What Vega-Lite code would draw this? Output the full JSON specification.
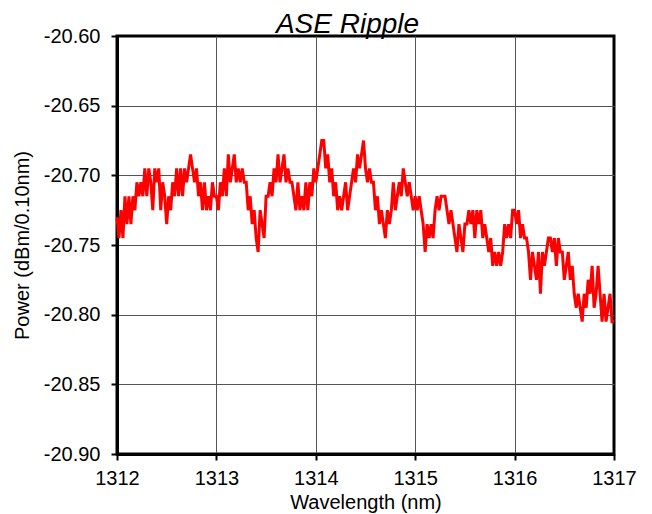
{
  "$schema": "https://vega.github.io/schema/vega-lite/v6.json",
  "width": 497,
  "height": 418,
  "autosize": {"type": "none"},
  "padding": {"left": 117, "top": 36, "right": 38, "bottom": 60},
  "background": "white",
  "title": {"text": "ASE Ripple", "font": "Liberation Sans", "fontStyle": "italic", "fontWeight": "normal", "fontSize": 28, "color": "black", "anchor": "middle", "baseline": "alphabetic", "frame": "group", "offset": -35, "dx": -18},
  "view": {"stroke": "black", "strokeWidth": 3},
  "data": {"values": [
    {"w": 1312.00, "p": -20.730}, {"w": 1312.02, "p": -20.745}, {"w": 1312.04, "p": -20.725}, {"w": 1312.06, "p": -20.745}, {"w": 1312.08, "p": -20.715},
    {"w": 1312.10, "p": -20.735}, {"w": 1312.12, "p": -20.715}, {"w": 1312.14, "p": -20.735}, {"w": 1312.16, "p": -20.715}, {"w": 1312.18, "p": -20.725},
    {"w": 1312.20, "p": -20.705}, {"w": 1312.22, "p": -20.715}, {"w": 1312.24, "p": -20.705}, {"w": 1312.26, "p": -20.715}, {"w": 1312.28, "p": -20.695},
    {"w": 1312.30, "p": -20.715}, {"w": 1312.32, "p": -20.695}, {"w": 1312.34, "p": -20.705}, {"w": 1312.36, "p": -20.725}, {"w": 1312.38, "p": -20.695},
    {"w": 1312.40, "p": -20.705}, {"w": 1312.42, "p": -20.695}, {"w": 1312.44, "p": -20.725}, {"w": 1312.46, "p": -20.705}, {"w": 1312.48, "p": -20.715},
    {"w": 1312.50, "p": -20.735}, {"w": 1312.52, "p": -20.715}, {"w": 1312.54, "p": -20.725}, {"w": 1312.56, "p": -20.705}, {"w": 1312.58, "p": -20.715},
    {"w": 1312.60, "p": -20.695}, {"w": 1312.62, "p": -20.715}, {"w": 1312.64, "p": -20.695}, {"w": 1312.66, "p": -20.715}, {"w": 1312.68, "p": -20.695},
    {"w": 1312.70, "p": -20.705}, {"w": 1312.72, "p": -20.695}, {"w": 1312.74, "p": -20.685}, {"w": 1312.76, "p": -20.695}, {"w": 1312.78, "p": -20.705},
    {"w": 1312.80, "p": -20.695}, {"w": 1312.82, "p": -20.715}, {"w": 1312.84, "p": -20.705}, {"w": 1312.86, "p": -20.725}, {"w": 1312.88, "p": -20.705},
    {"w": 1312.90, "p": -20.725}, {"w": 1312.92, "p": -20.715}, {"w": 1312.94, "p": -20.725}, {"w": 1312.96, "p": -20.705}, {"w": 1312.98, "p": -20.715},
    {"w": 1313.00, "p": -20.715}, {"w": 1313.02, "p": -20.725}, {"w": 1313.04, "p": -20.705}, {"w": 1313.06, "p": -20.715}, {"w": 1313.08, "p": -20.695},
    {"w": 1313.10, "p": -20.715}, {"w": 1313.12, "p": -20.685}, {"w": 1313.14, "p": -20.705}, {"w": 1313.16, "p": -20.695}, {"w": 1313.18, "p": -20.685},
    {"w": 1313.20, "p": -20.705}, {"w": 1313.22, "p": -20.695}, {"w": 1313.24, "p": -20.705}, {"w": 1313.26, "p": -20.695}, {"w": 1313.28, "p": -20.705},
    {"w": 1313.30, "p": -20.705}, {"w": 1313.32, "p": -20.725}, {"w": 1313.34, "p": -20.715}, {"w": 1313.36, "p": -20.735}, {"w": 1313.38, "p": -20.725},
    {"w": 1313.40, "p": -20.745}, {"w": 1313.42, "p": -20.755}, {"w": 1313.44, "p": -20.725}, {"w": 1313.46, "p": -20.735}, {"w": 1313.48, "p": -20.745},
    {"w": 1313.50, "p": -20.715}, {"w": 1313.52, "p": -20.715}, {"w": 1313.54, "p": -20.705}, {"w": 1313.56, "p": -20.715}, {"w": 1313.58, "p": -20.695},
    {"w": 1313.60, "p": -20.705}, {"w": 1313.62, "p": -20.685}, {"w": 1313.64, "p": -20.705}, {"w": 1313.66, "p": -20.695}, {"w": 1313.68, "p": -20.685},
    {"w": 1313.70, "p": -20.705}, {"w": 1313.72, "p": -20.695}, {"w": 1313.74, "p": -20.705}, {"w": 1313.76, "p": -20.705}, {"w": 1313.78, "p": -20.715},
    {"w": 1313.80, "p": -20.725}, {"w": 1313.82, "p": -20.705}, {"w": 1313.84, "p": -20.725}, {"w": 1313.86, "p": -20.715}, {"w": 1313.88, "p": -20.725},
    {"w": 1313.90, "p": -20.705}, {"w": 1313.92, "p": -20.725}, {"w": 1313.94, "p": -20.705}, {"w": 1313.96, "p": -20.715}, {"w": 1313.98, "p": -20.695},
    {"w": 1314.00, "p": -20.705}, {"w": 1314.02, "p": -20.695}, {"w": 1314.04, "p": -20.685}, {"w": 1314.06, "p": -20.675}, {"w": 1314.08, "p": -20.675},
    {"w": 1314.10, "p": -20.695}, {"w": 1314.12, "p": -20.685}, {"w": 1314.14, "p": -20.705}, {"w": 1314.16, "p": -20.695}, {"w": 1314.18, "p": -20.715},
    {"w": 1314.20, "p": -20.705}, {"w": 1314.22, "p": -20.725}, {"w": 1314.24, "p": -20.715}, {"w": 1314.26, "p": -20.725}, {"w": 1314.28, "p": -20.715},
    {"w": 1314.30, "p": -20.705}, {"w": 1314.32, "p": -20.725}, {"w": 1314.34, "p": -20.715}, {"w": 1314.36, "p": -20.705}, {"w": 1314.38, "p": -20.695},
    {"w": 1314.40, "p": -20.705}, {"w": 1314.42, "p": -20.685}, {"w": 1314.44, "p": -20.695}, {"w": 1314.46, "p": -20.685}, {"w": 1314.48, "p": -20.675},
    {"w": 1314.50, "p": -20.695}, {"w": 1314.52, "p": -20.705}, {"w": 1314.54, "p": -20.695}, {"w": 1314.56, "p": -20.705}, {"w": 1314.58, "p": -20.705},
    {"w": 1314.60, "p": -20.725}, {"w": 1314.62, "p": -20.715}, {"w": 1314.64, "p": -20.735}, {"w": 1314.66, "p": -20.725}, {"w": 1314.68, "p": -20.735},
    {"w": 1314.70, "p": -20.745}, {"w": 1314.72, "p": -20.725}, {"w": 1314.74, "p": -20.735}, {"w": 1314.76, "p": -20.725}, {"w": 1314.78, "p": -20.705},
    {"w": 1314.80, "p": -20.725}, {"w": 1314.82, "p": -20.715}, {"w": 1314.84, "p": -20.705}, {"w": 1314.86, "p": -20.715}, {"w": 1314.88, "p": -20.695},
    {"w": 1314.90, "p": -20.705}, {"w": 1314.92, "p": -20.715}, {"w": 1314.94, "p": -20.705}, {"w": 1314.96, "p": -20.715}, {"w": 1314.98, "p": -20.725},
    {"w": 1315.00, "p": -20.715}, {"w": 1315.02, "p": -20.725}, {"w": 1315.04, "p": -20.715}, {"w": 1315.06, "p": -20.725}, {"w": 1315.08, "p": -20.735},
    {"w": 1315.10, "p": -20.755}, {"w": 1315.12, "p": -20.735}, {"w": 1315.14, "p": -20.745}, {"w": 1315.16, "p": -20.735}, {"w": 1315.18, "p": -20.745},
    {"w": 1315.20, "p": -20.725}, {"w": 1315.22, "p": -20.715}, {"w": 1315.24, "p": -20.725}, {"w": 1315.26, "p": -20.715}, {"w": 1315.28, "p": -20.715},
    {"w": 1315.30, "p": -20.715}, {"w": 1315.32, "p": -20.725}, {"w": 1315.34, "p": -20.735}, {"w": 1315.36, "p": -20.725}, {"w": 1315.38, "p": -20.735},
    {"w": 1315.40, "p": -20.745}, {"w": 1315.42, "p": -20.755}, {"w": 1315.44, "p": -20.735}, {"w": 1315.46, "p": -20.745}, {"w": 1315.48, "p": -20.755},
    {"w": 1315.50, "p": -20.735}, {"w": 1315.52, "p": -20.735}, {"w": 1315.54, "p": -20.725}, {"w": 1315.56, "p": -20.735}, {"w": 1315.58, "p": -20.725},
    {"w": 1315.60, "p": -20.745}, {"w": 1315.62, "p": -20.725}, {"w": 1315.64, "p": -20.735}, {"w": 1315.66, "p": -20.725}, {"w": 1315.68, "p": -20.745},
    {"w": 1315.70, "p": -20.735}, {"w": 1315.72, "p": -20.745}, {"w": 1315.74, "p": -20.755}, {"w": 1315.76, "p": -20.745}, {"w": 1315.78, "p": -20.765},
    {"w": 1315.80, "p": -20.755}, {"w": 1315.82, "p": -20.765}, {"w": 1315.84, "p": -20.755}, {"w": 1315.86, "p": -20.765}, {"w": 1315.88, "p": -20.755},
    {"w": 1315.90, "p": -20.735}, {"w": 1315.92, "p": -20.745}, {"w": 1315.94, "p": -20.735}, {"w": 1315.96, "p": -20.745}, {"w": 1315.98, "p": -20.725},
    {"w": 1316.00, "p": -20.725}, {"w": 1316.02, "p": -20.735}, {"w": 1316.04, "p": -20.725}, {"w": 1316.06, "p": -20.745}, {"w": 1316.08, "p": -20.735},
    {"w": 1316.10, "p": -20.745}, {"w": 1316.12, "p": -20.745}, {"w": 1316.14, "p": -20.755}, {"w": 1316.16, "p": -20.775}, {"w": 1316.18, "p": -20.755},
    {"w": 1316.20, "p": -20.765}, {"w": 1316.22, "p": -20.775}, {"w": 1316.24, "p": -20.755}, {"w": 1316.26, "p": -20.785}, {"w": 1316.28, "p": -20.755},
    {"w": 1316.30, "p": -20.765}, {"w": 1316.32, "p": -20.755}, {"w": 1316.34, "p": -20.745}, {"w": 1316.36, "p": -20.745}, {"w": 1316.38, "p": -20.755},
    {"w": 1316.40, "p": -20.745}, {"w": 1316.42, "p": -20.765}, {"w": 1316.44, "p": -20.745}, {"w": 1316.46, "p": -20.755}, {"w": 1316.48, "p": -20.755},
    {"w": 1316.50, "p": -20.775}, {"w": 1316.52, "p": -20.765}, {"w": 1316.54, "p": -20.755}, {"w": 1316.56, "p": -20.775}, {"w": 1316.58, "p": -20.765},
    {"w": 1316.60, "p": -20.785}, {"w": 1316.62, "p": -20.795}, {"w": 1316.64, "p": -20.785}, {"w": 1316.66, "p": -20.795}, {"w": 1316.68, "p": -20.805},
    {"w": 1316.70, "p": -20.785}, {"w": 1316.72, "p": -20.795}, {"w": 1316.74, "p": -20.775}, {"w": 1316.76, "p": -20.785}, {"w": 1316.78, "p": -20.765},
    {"w": 1316.80, "p": -20.795}, {"w": 1316.82, "p": -20.785}, {"w": 1316.84, "p": -20.765}, {"w": 1316.86, "p": -20.785}, {"w": 1316.88, "p": -20.805},
    {"w": 1316.90, "p": -20.785}, {"w": 1316.92, "p": -20.805}, {"w": 1316.94, "p": -20.795}, {"w": 1316.96, "p": -20.785}, {"w": 1316.98, "p": -20.805},
    {"w": 1317.00, "p": -20.805}
  ]},
  "mark": {"type": "line", "color": "#ff0000", "strokeWidth": 3, "strokeJoin": "miter"},
  "encoding": {
    "x": {
      "field": "w", "type": "quantitative",
      "scale": {"domain": [1312, 1317], "nice": false, "zero": false},
      "axis": {
        "values": [1312, 1313, 1314, 1315, 1316, 1317], "format": "d",
        "title": "Wavelength (nm)",
        "labelFont": "Liberation Sans", "labelFontSize": 20, "labelColor": "black", "labelPadding": 8,
        "labelFlush": false, "labelOverlap": false,
        "tickSize": 6, "tickColor": "black", "tickWidth": 2,
        "domainColor": "black", "domainWidth": 3,
        "grid": true, "gridColor": "#555555", "gridWidth": 1,
        "gridOpacity": {"condition": {"test": "datum.value == 1312 || datum.value == 1317", "value": 0}, "value": 1},
        "titleFont": "Liberation Sans", "titleFontSize": 20, "titleFontWeight": "normal", "titleColor": "black",
        "titleY": 54, "titleBaseline": "alphabetic"
      }
    },
    "y": {
      "field": "p", "type": "quantitative",
      "scale": {"domain": [-20.9, -20.6], "nice": false, "zero": false},
      "axis": {
        "values": [-20.9, -20.85, -20.8, -20.75, -20.7, -20.65, -20.6],
        "labelExpr": "replace(format(datum.value, '.2f'), '\u2212', '-')",
        "title": "Power (dBm/0.10nm)",
        "labelFont": "Liberation Sans", "labelFontSize": 20, "labelColor": "black", "labelPadding": 11,
        "labelFlush": false, "labelOverlap": false,
        "tickSize": 6, "tickColor": "black", "tickWidth": 2,
        "domainColor": "black", "domainWidth": 3,
        "grid": true, "gridColor": "#555555", "gridWidth": 1,
        "gridOpacity": {"condition": {"test": "datum.value <= -20.899 || datum.value >= -20.601", "value": 0}, "value": 1},
        "titleFont": "Liberation Sans", "titleFontSize": 20, "titleFontWeight": "normal", "titleColor": "black",
        "titleX": -95, "titleY": 209, "titleAlign": "center", "titleBaseline": "middle", "titleAngle": -90
      }
    }
  }
}
